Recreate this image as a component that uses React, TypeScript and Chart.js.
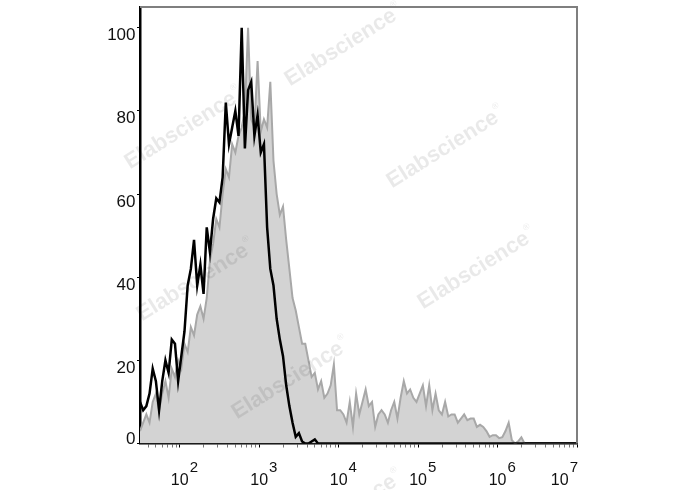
import React, { useEffect, useRef } from "react";
import { Chart, registerables } from "chart.js";

Chart.register(...registerables);

// Histogram channels: bin centres are evenly spaced in log10 units
const binStartExp = 1.5;
const binStepExp = 0.04;

// Black (unfilled) histogram, % of max per bin
const blackCounts = [
  10, 8, 9, 12, 18, 15, 8, 15, 20, 17,
  25, 24, 15, 21, 27, 38, 42, 49, 38, 43,
  36, 52, 46, 54, 59, 58, 64, 82, 72, 76,
  80, 74, 100, 71, 85, 87, 74, 79, 70, 72,
  52, 42, 38, 30, 25, 21, 14, 9, 5, 1.6,
  2.5, 0.5, 0, 0, 0.5, 1, 0,
];

// Grey (filled) histogram, % of max per bin
const grayCounts = [
  3, 5, 7, 5, 10, 12, 8, 12, 15, 11,
  18, 16, 20, 18, 24, 22, 28, 26, 31, 33,
  30, 35, 44, 48, 54, 52, 60, 66, 64, 72,
  70, 74, 76, 80, 100, 78, 76, 92, 75, 78,
  76, 87, 68, 60, 55, 57, 49, 42, 35, 32,
  28, 24, 24, 20, 16, 17, 13, 15, 11, 12,
  14, 19, 8, 8, 7, 5, 10, 4, 12, 7,
  10, 13, 9, 10, 4, 7, 8, 7, 5, 8,
  10, 6, 11, 15, 12, 13, 11, 10, 12, 14,
  9, 14, 8, 12, 8, 7, 10, 6.5, 7, 7,
  5, 6, 7, 5.6, 6, 6, 4, 4.5, 4, 3,
  1.6, 2, 2, 1.3, 1.5, 3, 5, 0.8, 0, 0.5,
  1.5, 0,
];

// Axis definitions
const yTickValues = [0, 20, 40, 60, 80, 100];
const xDecadeExps = [2, 3, 4, 5, 6, 7];
const xMinorMultipliers = [2, 3, 4, 5, 6, 7, 8, 9];
const xMinExp = 1.5;
const xMaxExp = 7;
const yMax = 105;

const watermarkText = "Elabscience";

function toPoints(counts: number[]) {
  const pts = counts.map((v, i) => ({ x: Math.pow(10, binStartExp + i * binStepExp), y: v }));
  pts.push({ x: Math.pow(10, xMaxExp), y: 0 });
  return pts;
}

function buildXTicks() {
  const min = Math.pow(10, xMinExp);
  const max = Math.pow(10, xMaxExp);
  const vals: number[] = [];
  for (let e = Math.floor(xMinExp); e <= xMaxExp; e++) {
    const base = Math.pow(10, e);
    if (base >= min && base <= max) vals.push(base);
    for (const m of xMinorMultipliers) {
      const v = m * base;
      if (v >= min && v <= max) vals.push(v);
    }
  }
  return vals.sort((a, b) => a - b);
}

function isDecade(v: number) {
  const l = Math.log10(v);
  return Math.abs(l - Math.round(l)) < 1e-9;
}

const LABEL_FONT = '"Liberation Sans", Arial, Helvetica, sans-serif';

const decorPlugin = {
  id: "decor",
  afterDatasetsDraw(chart: any) {
    const ctx = chart.ctx as CanvasRenderingContext2D;
    const spots = [
      [345, 45], [185, 128], [447, 147], [197, 280],
      [478, 268], [292, 378], [345, 511],
    ];
    ctx.save();
    ctx.fillStyle = "rgba(0,0,0,0.085)";
    for (const [cx, cy] of spots) {
      ctx.save();
      ctx.translate(cx, cy);
      ctx.rotate(-32 * Math.PI / 180);
      ctx.font = `bold 22px ${LABEL_FONT}`;
      ctx.textBaseline = "middle";
      const w = ctx.measureText(watermarkText).width;
      ctx.fillText(watermarkText, -w / 2 - 5, 0);
      ctx.font = `9px ${LABEL_FONT}`;
      ctx.fillText("®", w / 2 - 4, -9);
      ctx.restore();
    }
    ctx.restore();
  },
  afterDraw(chart: any) {
    const ctx = chart.ctx as CanvasRenderingContext2D;
    const area = chart.chartArea;
    const xs = chart.scales.x;
    const ys = chart.scales.y;
    ctx.save();
    // top and right frame
    ctx.strokeStyle = "#7f7f7f";
    ctx.lineWidth = 2;
    ctx.beginPath();
    ctx.moveTo(area.left, area.top);
    ctx.lineTo(area.right, area.top);
    ctx.lineTo(area.right, area.bottom);
    ctx.stroke();

    // y labels
    ctx.fillStyle = "#111";
    ctx.font = `17px ${LABEL_FONT}`;
    ctx.textAlign = "right";
    ctx.textBaseline = "alphabetic";
    for (const v of yTickValues) {
      const py = ys.getPixelForValue(v);
      const baseline = Math.min(py + 12.5, area.bottom + 0.5);
      ctx.fillText(String(v), area.left - 4.5, baseline);
    }

    // x labels: 10 with superscript exponent
    ctx.textAlign = "left";
    for (const e of xDecadeExps) {
      const px = xs.getPixelForValue(Math.pow(10, e));
      ctx.font = `16px ${LABEL_FONT}`;
      const baseW = ctx.measureText("10").width;
      ctx.font = `15px ${LABEL_FONT}`;
      const supW = ctx.measureText(String(e)).width;
      let sx = px - baseW / 2;
      const limit = area.right + 1;
      if (sx + baseW + 1 + supW > limit) sx = limit - baseW - 1 - supW;
      ctx.font = `16px ${LABEL_FONT}`;
      ctx.fillText("10", sx, 485);
      ctx.font = `15px ${LABEL_FONT}`;
      ctx.fillText(String(e), sx + baseW + 1, 472);
    }
    ctx.restore();
  },
};

export default function App() {
  const canvasRef = useRef<HTMLCanvasElement | null>(null);

  useEffect(() => {
    document.body.style.margin = "0";
    document.body.style.overflow = "hidden";
    const canvas = canvasRef.current;
    if (!canvas) return;
    const xTicks = buildXTicks();
    const chart = new Chart(canvas, {
      type: "line",
      data: {
        datasets: [
          {
            label: "black",
            data: toPoints(blackCounts),
            borderColor: "#000000",
            borderWidth: 2.5,
            fill: false,
            pointRadius: 0,
            tension: 0,
            order: 0,
          },
          {
            label: "gray",
            data: toPoints(grayCounts),
            borderColor: "#a8a8a8",
            backgroundColor: "#d3d3d3",
            borderWidth: 2,
            fill: "origin",
            pointRadius: 0,
            tension: 0,
            order: 1,
          },
        ],
      },
      options: {
        animation: false,
        responsive: false,
        events: [],
        layout: { padding: { top: 7, right: 111, left: 0, bottom: 0 } },
        plugins: {
          legend: { display: false },
          tooltip: { enabled: false },
        },
        scales: {
          x: {
            type: "logarithmic",
            min: Math.pow(10, xMinExp),
            max: Math.pow(10, xMaxExp),
            z: 1,
            afterBuildTicks: (s: any) => {
              s.ticks = xTicks.map((v) => ({ value: v, major: isDecade(v) }));
            },
            afterFit: (s: any) => {
              s.height = 46.5;
            },
            ticks: { display: false, autoSkip: false },
            grid: {
              drawOnChartArea: false,
              drawTicks: true,
              tickLength: 4,
              tickWidth: 1,
              tickColor: (c: any) => (c.tick && isDecade(c.tick.value) ? "#000" : "#777"),
            },
            border: { display: true, color: "#000", width: 2.5 },
          },
          y: {
            type: "linear",
            min: 0,
            max: yMax,
            z: 1,
            afterBuildTicks: (s: any) => {
              s.ticks = yTickValues.map((v) => ({ value: v }));
            },
            afterFit: (s: any) => {
              s.width = 140;
            },
            ticks: { display: false },
            grid: {
              drawOnChartArea: false,
              drawTicks: true,
              tickLength: 3,
              tickWidth: 1,
              tickColor: "#000",
            },
            border: { display: true, color: "#000", width: 2.5 },
          },
        },
      } as any,
      plugins: [decorPlugin],
    });
    return () => chart.destroy();
  }, []);

  return (
    <div style={{ width: 688, height: 490, background: "#fff" }}>
      <canvas ref={canvasRef} width={688} height={490} style={{ display: "block" }} />
    </div>
  );
}
